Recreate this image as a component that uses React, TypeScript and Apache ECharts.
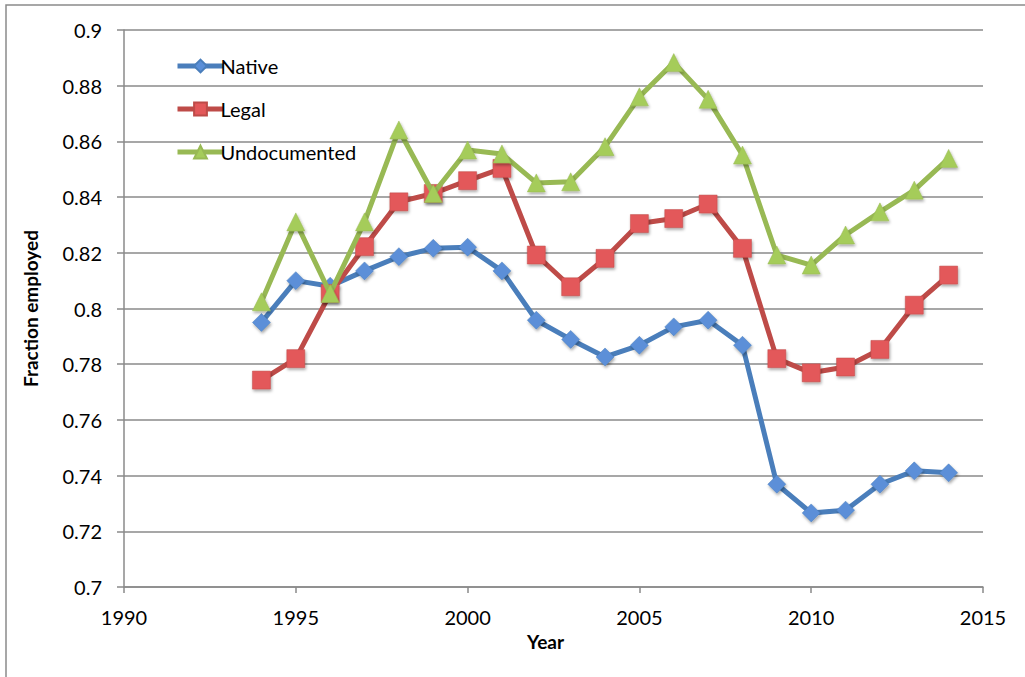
import React, { useEffect, useRef } from "react";
import * as echarts from "echarts";

const years = [1994, 1995, 1996, 1997, 1998, 1999, 2000, 2001, 2002, 2003, 2004, 2005, 2006, 2007, 2008, 2009, 2010, 2011, 2012, 2013, 2014];
const native = [0.795, 0.81, 0.808, 0.8135, 0.8186, 0.8216, 0.822, 0.8135, 0.7958, 0.7889, 0.7826, 0.7868, 0.7934, 0.7958, 0.7868, 0.7369, 0.7266, 0.7276, 0.7369, 0.7417, 0.741];
const legal = [0.7743, 0.782, 0.8054, 0.8222, 0.8383, 0.8413, 0.8459, 0.8503, 0.8192, 0.8078, 0.818, 0.8305, 0.8323, 0.8375, 0.8216, 0.782, 0.7769, 0.779, 0.7853, 0.8012, 0.812];
const undocumented = [0.8024, 0.8311, 0.8054, 0.8311, 0.8641, 0.8413, 0.8569, 0.8555, 0.8451, 0.8455, 0.8581, 0.876, 0.8883, 0.8751, 0.8551, 0.8192, 0.8156, 0.8264, 0.8347, 0.8425, 0.8539];

const seriesNames = ["Native", "Legal", "Undocumented"];
const xTitle = "Year";
const yTitle = "Fraction employed";

const FONT = "Lato, 'Open Sans', sans-serif";

export default function App() {
  const ref = useRef<HTMLDivElement>(null);
  useEffect(() => {
    if (!ref.current) return;
    const chart = echarts.init(ref.current, null, { renderer: "svg" });
    const pair = (arr: number[]) => years.map((y, i) => [y, arr[i]]);
    const shadow = {
      shadowColor: "rgba(0,0,0,0.35)",
      shadowBlur: 3,
      shadowOffsetX: 1,
      shadowOffsetY: 2,
    };
    chart.setOption({
      animation: false,
      backgroundColor: "#ffffff",
      textStyle: { fontFamily: FONT },
      graphic: [
        {
          type: "rect",
          shape: { x: 6, y: 5, width: 1100, height: 800 },
          style: { fill: "none", stroke: "#8a8a8a", lineWidth: 1.5 },
          silent: true,
        },
      ],
      grid: { left: 124, right: 42, top: 30, bottom: 90 },
      legend: {
        orient: "vertical",
        left: 170,
        top: 51,
        itemGap: 23,
        itemWidth: 46,
        itemHeight: 16,
        data: seriesNames,
        lineStyle: { width: 5 },
        textStyle: { fontSize: 20, color: "#000", fontFamily: FONT, padding: [0, 0, 0, -8] },
      },
      xAxis: {
        type: "value",
        min: 1990,
        max: 2015,
        interval: 5,
        name: xTitle,
        nameLocation: "middle",
        nameGap: 45,
        nameTextStyle: { fontSize: 19, fontWeight: "bold", color: "#000", fontFamily: FONT, padding: [0, 16, 0, 0] },
        axisLine: { show: true, lineStyle: { color: "#8a8a8a", width: 1.5 } },
        axisTick: { show: true, length: 6, lineStyle: { color: "#8a8a8a", width: 1.5 } },
        axisLabel: {
          fontSize: 20,
          color: "#000",
          margin: 20,
          fontFamily: FONT,
          formatter: (v: number) => String(Math.round(v)),
        },
        splitLine: { show: false },
      },
      yAxis: {
        type: "value",
        min: 0.7,
        max: 0.9,
        interval: 0.02,
        name: yTitle,
        nameLocation: "middle",
        nameGap: 84,
        nameTextStyle: { fontSize: 19, fontWeight: "bold", color: "#000", fontFamily: FONT },
        axisLine: { show: true, lineStyle: { color: "#8a8a8a", width: 1.5 } },
        axisTick: { show: true, length: 7, lineStyle: { color: "#8a8a8a", width: 1.5 } },
        axisLabel: {
          fontSize: 20,
          color: "#000",
          margin: 22,
          fontFamily: FONT,
          formatter: (v: number) => String(+v.toFixed(2)),
        },
        splitLine: { show: true, lineStyle: { color: "#8a8a8a", width: 1.5 } },
      },
      series: [
        {
          name: seriesNames[0],
          type: "line",
          data: pair(native),
          symbol: "diamond",
          symbolSize: 18,
          lineStyle: { color: "#4a7ebb", width: 5 },
          itemStyle: { color: "#5b8fd8", borderColor: "#4a7ebb", borderWidth: 0.5, ...shadow },
          z: 3,
        },
        {
          name: seriesNames[1],
          type: "line",
          data: pair(legal),
          symbol: "rect",
          symbolSize: 18,
          lineStyle: { color: "#be4b48", width: 5 },
          itemStyle: { color: "#e3585a", borderColor: "#be4b48", borderWidth: 0.5, ...shadow },
          z: 4,
        },
        {
          name: seriesNames[2],
          type: "line",
          data: pair(undocumented),
          symbol: "triangle",
          symbolSize: 18,
          lineStyle: { color: "#98b954", width: 5 },
          itemStyle: { color: "#a5cc5a", borderColor: "#98b954", borderWidth: 0.5, ...shadow },
          z: 5,
        },
      ],
    });
    return () => chart.dispose();
  }, []);
  return (
    <div
      ref={ref}
      style={{ position: "fixed", left: 0, top: 0, width: 1025, height: 677, background: "#fff" }}
    />
  );
}
